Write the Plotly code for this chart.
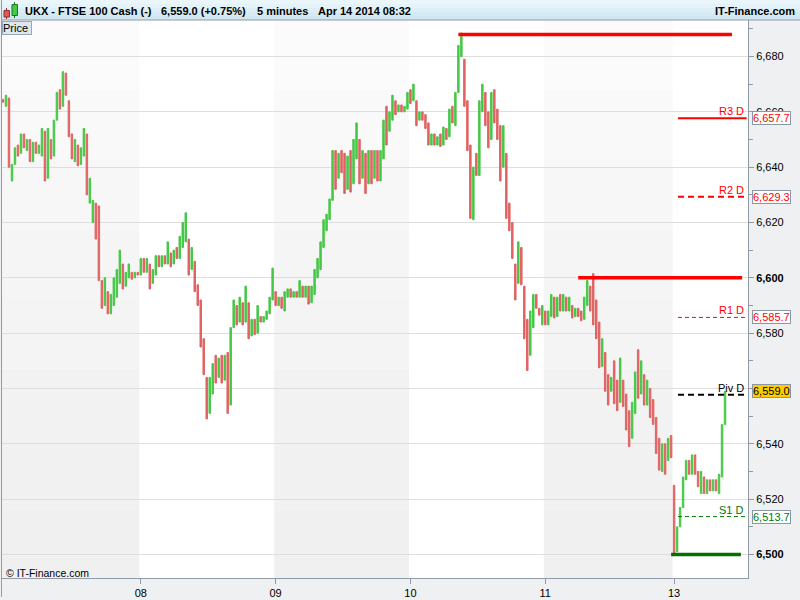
import plotly.graph_objects as go

# ---------------- data ----------------
opens = [6664.5, 6662, 6665, 6635, 6641, 6648, 6645, 6652, 6646, 6650,
         6642, 6649, 6645, 6644, 6653, 6636, 6650, 6644, 6657, 6668,
         6662, 6674, 6664, 6652, 6642, 6648, 6641, 6644, 6652, 6627,
         6620, 6627, 6626, 6599, 6590, 6595, 6587, 6590, 6593, 6598,
         6605, 6597, 6600, 6602, 6600, 6602, 6601, 6607, 6602, 6605,
         6598, 6601, 6608, 6604, 6608, 6605, 6609, 6605, 6611, 6607,
         6611, 6613, 6614, 6603, 6606, 6597.5, 6592, 6578, 6564, 6551,
         6558, 6572, 6564, 6572, 6563, 6573, 6554, 6582, 6590, 6584,
         6591, 6584, 6591, 6579, 6585, 6580, 6586, 6584, 6585, 6587,
         6592, 6595, 6590, 6593, 6588, 6593, 6596, 6593, 6595, 6593,
         6597, 6593, 6597, 6591, 6594, 6600, 6603, 6611, 6617, 6621,
         6628, 6646, 6636, 6646, 6645, 6632, 6646, 6634, 6643, 6650,
         6636, 6645, 6634, 6646, 6636, 6646, 6635, 6643, 6662, 6653,
         6657, 6664, 6660, 6662.5, 6660, 6661, 6668, 6664, 6664, 6657,
         6660, 6659, 6656, 6648, 6652, 6648, 6652, 6648, 6654, 6651,
         6662, 6655, 6667, 6680, 6679, 6664, 6648, 6621, 6645, 6637,
         6660, 6667, 6660, 6650, 6668, 6661, 6655, 6640, 6645, 6627,
         6620, 6605, 6598, 6611, 6597, 6585, 6572, 6582, 6594, 6589,
         6583, 6588, 6583, 6586, 6593, 6586, 6594, 6588, 6593, 6588,
         6590, 6586, 6589, 6588, 6585, 6590, 6597, 6601.5, 6592, 6584,
         6568, 6573, 6565, 6559, 6570, 6563, 6555, 6563, 6558, 6552,
         6542, 6551, 6574, 6558, 6565, 6554, 6560, 6556, 6549.5, 6542,
         6530, 6540, 6534, 6543, 6525, 6501, 6510, 6517, 6527, 6534,
         6529, 6536, 6530, 6522, 6528, 6522, 6527, 6523, 6527, 6522,
         6528, 6547]
closes = [6663.5, 6666, 6640, 6641, 6647, 6644, 6652, 6647, 6650, 6642,
          6649, 6645, 6648, 6654, 6635, 6654, 6643, 6657, 6667, 6661,
          6674.5, 6666, 6651, 6643, 6650, 6640.5, 6647, 6654, 6630, 6636,
          6628, 6614, 6599, 6589, 6600, 6587, 6594, 6600, 6603, 6610,
          6596, 6602, 6605, 6599.5, 6602, 6601, 6607, 6602, 6607, 6596,
          6603, 6608, 6604, 6608, 6605, 6613, 6604, 6610, 6607, 6615,
          6620, 6623.5, 6601, 6611, 6595, 6590, 6575, 6565, 6549, 6564,
          6569, 6562, 6571, 6562, 6572, 6551, 6582, 6592, 6583, 6593,
          6583, 6597, 6578, 6585, 6579.5, 6590, 6584, 6586, 6588, 6593,
          6603.5, 6590, 6593, 6589, 6595, 6596, 6593, 6595, 6593, 6599,
          6593, 6597, 6590.5, 6597, 6603, 6607, 6613, 6621, 6623, 6628.5,
          6646, 6632, 6645, 6638, 6630.5, 6644, 6631, 6650, 6656, 6634,
          6646, 6630.5, 6646, 6634, 6646, 6635, 6646, 6657, 6648, 6660,
          6666, 6659, 6662.5, 6660, 6662, 6667, 6663, 6670, 6655, 6660,
          6657, 6654, 6648, 6652, 6648, 6651, 6647.5, 6654.5, 6650, 6661,
          6656, 6667, 6684, 6688.5, 6662, 6646, 6621.5, 6640, 6637, 6664,
          6670, 6655, 6647, 6667, 6656, 6650, 6635, 6655, 6621.5, 6617,
          6607, 6592, 6613, 6597.5, 6578, 6566.5, 6588, 6594, 6589, 6586.5,
          6590, 6583, 6588, 6594, 6585.5, 6593, 6588, 6594, 6588, 6593,
          6585.5, 6589, 6586, 6584.5, 6593, 6599, 6588, 6583, 6578, 6567.5,
          6578, 6559, 6554, 6564, 6554.5, 6552, 6571, 6553.5, 6545, 6539,
          6555, 6566, 6556.5, 6570, 6554, 6563, 6549.5, 6547, 6536.5, 6530.5,
          6540, 6529, 6542, 6535, 6500.5, 6510, 6517, 6528, 6534, 6529,
          6536, 6529, 6524.5, 6530, 6522, 6527, 6523, 6527, 6523, 6529,
          6547, 6559.0]
highs = [max(o, c) for o, c in zip(opens, closes)]
lows = [min(o, c) for o, c in zip(opens, closes)]
bar_index = list(range(len(closes)))

day_starts = [46, 91, 136, 181, 224]
day_labels = ["08", "09", "10", "11", "13"]

y_ticks = [6500, 6520, 6540, 6560, 6580, 6600, 6620, 6640, 6660, 6680]
y_minor = [6490, 6510, 6530, 6550, 6570, 6590, 6610, 6630, 6650, 6670, 6690]
y_tick_text = [("<b>%s</b>" if v % 100 == 0 else "%s") % f"{v:,}" for v in y_ticks]

pivot_names = ["R3 D", "R2 D", "R1 D", "Piv D", "S1 D"]
pivot_values = [6657.7, 6629.3, 6585.7, 6557.7, 6513.7]

sr_levels = [6688.0, 6600.0, 6500.0]      # drawn support / resistance lines
sr_start_bar = [152, 192, 223]
sr_end_bar = [243.3, 246.7, 246.3]

symbol_text = "UKX - FTSE 100 Cash (-)"
last_price = 6559.0
change_pct = 0.75
interval_text = "5 minutes"
stamp_text = "Apr 14 2014 08:32"

# ---------------- layout helpers ----------------
FONT = "Liberation Sans, Arial, sans-serif"
GRAY = "#8f9ca8"
X0, X1 = 1, 748      # plot area pixels
Y0, Y1 = 20, 581


def px(x):
    return (x - X0) / (X1 - X0)


def py(y):
    return (Y1 - y) / (Y1 - Y0)


fig = go.Figure()
fig.add_trace(go.Candlestick(
    x=bar_index, open=opens, high=highs, low=lows, close=closes,
    increasing=dict(fillcolor="#46c846", line=dict(color="#46c846", width=1)),
    decreasing=dict(fillcolor="#e06363", line=dict(color="#e06363", width=1)),
    whiskerwidth=0, showlegend=False, hoverinfo="skip",
))

shapes = []
# alternating day bands with a soft vertical gradient
band_edges = [(-0.5, day_starts[0] - 0.5), (day_starts[1] - 0.5, day_starts[2] - 0.5),
              (day_starts[3] - 0.5, day_starts[4] - 0.5)]
grad = ["#fbfbfb", "#f9f9f9", "#f7f7f7", "#f5f5f5", "#f4f4f4", "#f2f2f2", "#f1f1f1", "#f0f0f0"]
for a, b in band_edges:
    for k, col in enumerate(grad):
        shapes.append(dict(type="rect", xref="x", yref="paper", x0=a, x1=b,
                           y0=1 - (k + 1) / len(grad), y1=1 - k / len(grad),
                           fillcolor=col, line=dict(width=0), layer="below"))

# title bar gradient
tb = ["#eaf6fb", "#e4f2f9", "#ddeef6", "#d6eaf3", "#d0e6f0"]
for k, col in enumerate(tb):
    shapes.append(dict(type="rect", xref="paper", yref="paper",
                       x0=px(0), x1=px(800), y0=py(4 * (k + 1)), y1=py(4 * k),
                       fillcolor=col, line=dict(width=0)))
shapes.append(dict(type="line", xref="paper", yref="paper", x0=px(0), x1=px(800),
                   y0=py(20), y1=py(20), line=dict(color=GRAY, width=1)))
shapes.append(dict(type="line", xref="paper", yref="paper", x0=px(0.5), x1=px(0.5),
                   y0=py(0), y1=py(600), line=dict(color=GRAY, width=1)))

# icon: two small candles
shapes += [
    dict(type="line", xref="paper", yref="paper", x0=px(5.5), x1=px(5.5), y0=py(19), y1=py(8),
         line=dict(color="#803030", width=1)),
    dict(type="rect", xref="paper", yref="paper", x0=px(3), x1=px(8.5), y0=py(17), y1=py(10.5),
         fillcolor="#e05858", line=dict(color="#903030", width=1)),
    dict(type="line", xref="paper", yref="paper", x0=px(13.5), x1=px(13.5), y0=py(18), y1=py(2),
         line=dict(color="#207020", width=1)),
    dict(type="rect", xref="paper", yref="paper", x0=px(11), x1=px(16.5), y0=py(15.5), y1=py(4.5),
         fillcolor="#44cc44", line=dict(color="#207020", width=1)),
]

# pivot lines
piv_styles = [
    dict(color="#ff0000", width=2, dash="solid"),
    dict(color="#ff0000", width=2, dash="6px,4px"),
    dict(color="#ff0000", width=1, dash="4px,3px"),
    dict(color="#000000", width=2, dash="6px,4px"),
    dict(color="#007700", width=1, dash="4px,3px"),
]
piv_text_col = ["#ff0000", "#ff0000", "#ff0000", "#000000", "#007700"]
for v, st in zip(pivot_values, piv_styles):
    shapes.append(dict(type="line", xref="x", yref="y", x0=225.3, x1=248.2, y0=v, y1=v,
                       line=st))

# support / resistance lines
sr_cols = ["#ff0000", "#ff0000", "#007000"]
for v, a, b, c in zip(sr_levels, sr_start_bar, sr_end_bar, sr_cols):
    shapes.append(dict(type="line", xref="x", yref="y", x0=a, x1=b, y0=v, y1=v,
                       line=dict(color=c, width=3.5)))

annotations = []
# title bar texts
for txt, x in [(symbol_text, 22), (f"{last_price:,.1f} (+{change_pct:.2f}%)", 158),
               (interval_text, 254), (stamp_text, 315)]:
    annotations.append(dict(xref="paper", yref="paper", x=px(x), y=py(10.5), text=f"<b>{txt}</b>",
                            showarrow=False, xanchor="left", yanchor="middle",
                            font=dict(family=FONT, size=11, color="#000000")))
annotations.append(dict(xref="paper", yref="paper", x=px(797), y=py(10.5), text="<b>IT-Finance.com</b>",
                        showarrow=False, xanchor="right", yanchor="middle",
                        font=dict(family=FONT, size=11, color="#000000")))
annotations.append(dict(xref="paper", yref="paper", x=px(1), y=py(21), text="Price ",
                        showarrow=False, xanchor="left", yanchor="top", bgcolor="#dde6ed",
                        bordercolor="#9aa8b4", borderwidth=1, borderpad=0,
                        font=dict(family=FONT, size=11, color="#000000")))
annotations.append(dict(xref="paper", yref="paper", x=px(3), y=py(575.5), text="© IT-Finance.com",
                        showarrow=False, xanchor="left", yanchor="middle",
                        font=dict(family=FONT, size=10.5, color="#000000")))

# pivot labels + value boxes
for name, v, c in zip(pivot_names, pivot_values, piv_text_col):
    annotations.append(dict(xref="x", yref="y", x=248.0, y=v, text=name, showarrow=False,
                            xanchor="right", yanchor="bottom", yshift=-1,
                            font=dict(family=FONT, size=11, color=c)))
    if name != "Piv D":
        annotations.append(dict(xref="paper", yref="y", x=1, y=v, text=f"{v:,.1f}",
                                showarrow=False, xanchor="left", yanchor="middle", xshift=4,
                                bgcolor="#ffffff", bordercolor="#8a98a6", borderwidth=1, borderpad=0,
                                font=dict(family=FONT, size=11, color=c)))
annotations.append(dict(xref="paper", yref="y", x=1, y=last_price, text=f"{last_price:,.1f}",
                        showarrow=False, xanchor="left", yanchor="middle", xshift=4,
                        bgcolor="#ffcc00", bordercolor="#8a98a6", borderwidth=1, borderpad=0,
                        font=dict(family=FONT, size=11, color="#000000")))

fig.update_layout(
    width=800, height=600,
    margin=dict(l=X0, r=800 - X1, t=Y0, b=600 - Y1, pad=0),
    paper_bgcolor="#eef0f2", plot_bgcolor="#ffffff",
    font=dict(family=FONT, size=11, color="#000000"),
    showlegend=False,
    shapes=shapes, annotations=annotations,
    xaxis=dict(range=[-0.333, 248.667], tickmode="array", tickvals=day_starts, ticktext=day_labels,
               ticks="outside", ticklen=5, tickcolor=GRAY, showgrid=False, zeroline=False,
               showline=True, linecolor=GRAY, mirror=True, rangeslider=dict(visible=False),
               tickfont=dict(family=FONT, size=11, color="#000000"), fixedrange=True),
    yaxis=dict(side="right", range=[6491.5, 6693.2], tickmode="array", tickvals=y_ticks,
               ticktext=y_tick_text, ticks="outside", ticklen=5, tickcolor=GRAY,
               showgrid=True, gridcolor="#dedede", gridwidth=1, zeroline=False,
               showline=True, linecolor=GRAY, mirror=True,
               minor=dict(tickmode="array", tickvals=y_minor, ticks="outside", ticklen=4,
                          tickcolor=GRAY, showgrid=False),
               tickfont=dict(family=FONT, size=11, color="#000000"), fixedrange=True),
)

fig.write_html("out.html", config={"displayModeBar": False},
               post_script="document.body.style.margin='0';document.body.style.overflow='hidden';")
